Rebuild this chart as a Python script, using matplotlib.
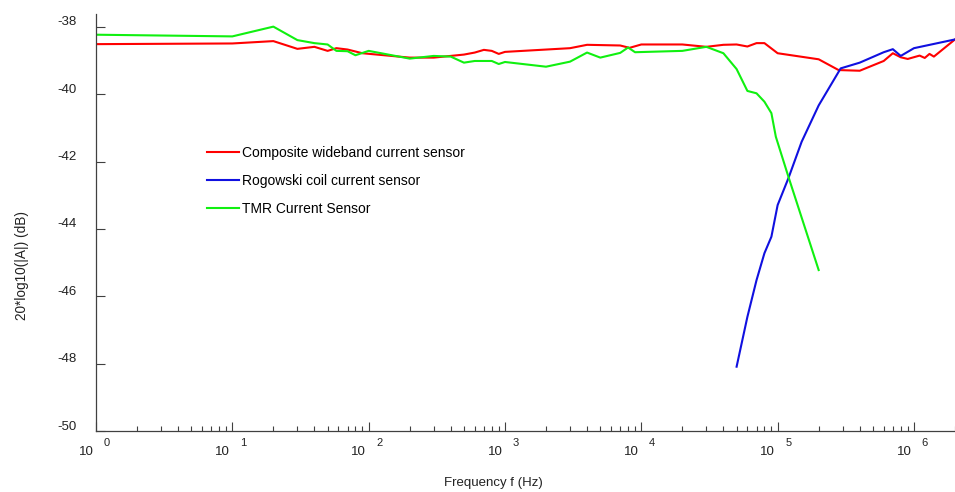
import matplotlib
matplotlib.use('Agg')
import matplotlib.pyplot as plt
from matplotlib.transforms import ScaledTranslation
import numpy as np

plt.rcParams['font.family'] = ['Liberation Sans', 'DejaVu Sans']
plt.rcParams['axes.unicode_minus'] = False

# composite wideband sensor
f_comp = [1, 10, 20, 30, 40, 50, 58, 70, 90, 200, 300, 500, 600, 700, 800, 900, 1000,
          3000, 4000, 7000, 8200, 1e4, 2e4, 3e4, 4e4, 5e4, 6e4, 7e4, 8e4, 1e5, 2e5,
          2.8e5, 4e5, 6e5, 7e5, 8e5, 9e5, 1.1e6, 1.2e6, 1.3e6, 1.4e6, 2e6]
db_comp = [-38.51, -38.49, -38.42, -38.65, -38.59, -38.71, -38.63, -38.67, -38.78, -38.91,
           -38.91, -38.82, -38.76, -38.68, -38.71, -38.80, -38.74, -38.63, -38.53, -38.55,
           -38.62, -38.52, -38.52, -38.59, -38.53, -38.52, -38.58, -38.48, -38.48, -38.78,
           -38.96, -39.28, -39.30, -39.01, -38.78, -38.90, -38.95, -38.85, -38.92, -38.80,
           -38.88, -38.37]

# rogowski coil
f_rog = [5e4, 6e4, 7e4, 8e4, 9e4, 1e5, 1.2e5, 1.5e5, 2e5, 2.9e5, 4e5, 6e5, 7e5, 8e5, 1e6, 2e6]
db_rog = [-48.09, -46.61, -45.52, -44.72, -44.23, -43.29, -42.49, -41.41, -40.33, -39.23,
          -39.06, -38.75, -38.66, -38.86, -38.63, -38.37]

# TMR sensor
f_tmr = [1, 10, 20, 30, 40, 50, 58, 70, 80, 100, 200, 300, 400, 500, 600, 800, 900, 1000,
         2000, 3000, 4000, 5000, 7000, 8000, 9000, 2e4, 3e4, 4e4, 5e4, 6e4, 7e4, 8e4,
         9e4, 9.7e4, 1.2e5, 2e5]
db_tmr = [-38.23, -38.28, -37.99, -38.39, -38.48, -38.52, -38.71, -38.72, -38.84, -38.71,
          -38.94, -38.86, -38.88, -39.06, -39.01, -39.01, -39.10, -39.04, -39.18, -39.03,
          -38.76, -38.91, -38.77, -38.61, -38.75, -38.71, -38.59, -38.78, -39.25, -39.90,
          -39.97, -40.22, -40.56, -41.26, -42.45, -45.22]

labels = ['Composite wideband current sensor', 'Rogowski coil current sensor', 'TMR Current Sensor']
colors = ['#ff0000', '#1010e0', '#10f010']

fig = plt.figure(figsize=(9.55, 4.92), dpi=100)
ax = fig.add_axes([96/955, 61/492, 1 - 96/955, (431 - 13.5)/492])

ax.plot(f_comp, db_comp, color=colors[0], lw=1.5, label=labels[0])
ax.plot(f_rog, db_rog, color=colors[1], lw=1.5, label=labels[1])
ax.plot(f_tmr, db_tmr, color=colors[2], lw=1.5, label=labels[2])

ax.set_xscale('log')
ax.set_xlim(1, 2e6)
ax.set_ylim(-50, -37.6)

for s in ['top', 'right']:
    ax.spines[s].set_visible(False)
for s in ['left', 'bottom']:
    ax.spines[s].set_color('#404040')
    ax.spines[s].set_linewidth(0.9)

ax.set_yticks(np.arange(-50, -37, 2))
ax.tick_params(axis='y', direction='in', length=6.5, width=0.8, color='#404040',
               labelsize=9.5, pad=14, labelcolor='#222222')
ax.tick_params(axis='x', which='major', direction='in', length=6.5, width=0.8, color='#404040')
ax.tick_params(axis='x', which='minor', direction='in', length=3.6, width=0.8, color='#404040')
ax.set_xticks([10.0**k for k in range(7)])
ax.set_xticklabels([])

off = ScaledTranslation(0, 6/100, fig.dpi_scale_trans)
for lab in ax.get_yticklabels():
    lab.set_transform(lab.get_transform() + off)

for k in range(7):
    ax.annotate('10', xy=(10.0**k, 0), xycoords=('data', 'axes fraction'),
                xytext=(-10, -21), textcoords='offset pixels', ha='center', va='center',
                fontsize=9.5, color='#222222')
    ax.annotate(str(k), xy=(10.0**k, 0), xycoords=('data', 'axes fraction'),
                xytext=(11, -12), textcoords='offset pixels', ha='center', va='center',
                fontsize=8, color='#222222')

fig.text(493/955, 1 - 483/492, 'Frequency f (Hz)', ha='center', va='center',
         fontsize=9.5, color='#222222')
fig.text(22/955, 1 - 265/492, '20*log10(|A|) (dB)', ha='center', va='center',
         rotation=90, fontsize=9.8, color='#222222')

ax.legend(loc='upper left', bbox_to_anchor=(207/955, 1 - 146/492),
          bbox_transform=fig.transFigure, frameon=False, fontsize=10,
          handlelength=2.3, handletextpad=0.22, labelspacing=1.0, borderpad=0,
          borderaxespad=0)

fig.savefig('out.png', dpi=100)
